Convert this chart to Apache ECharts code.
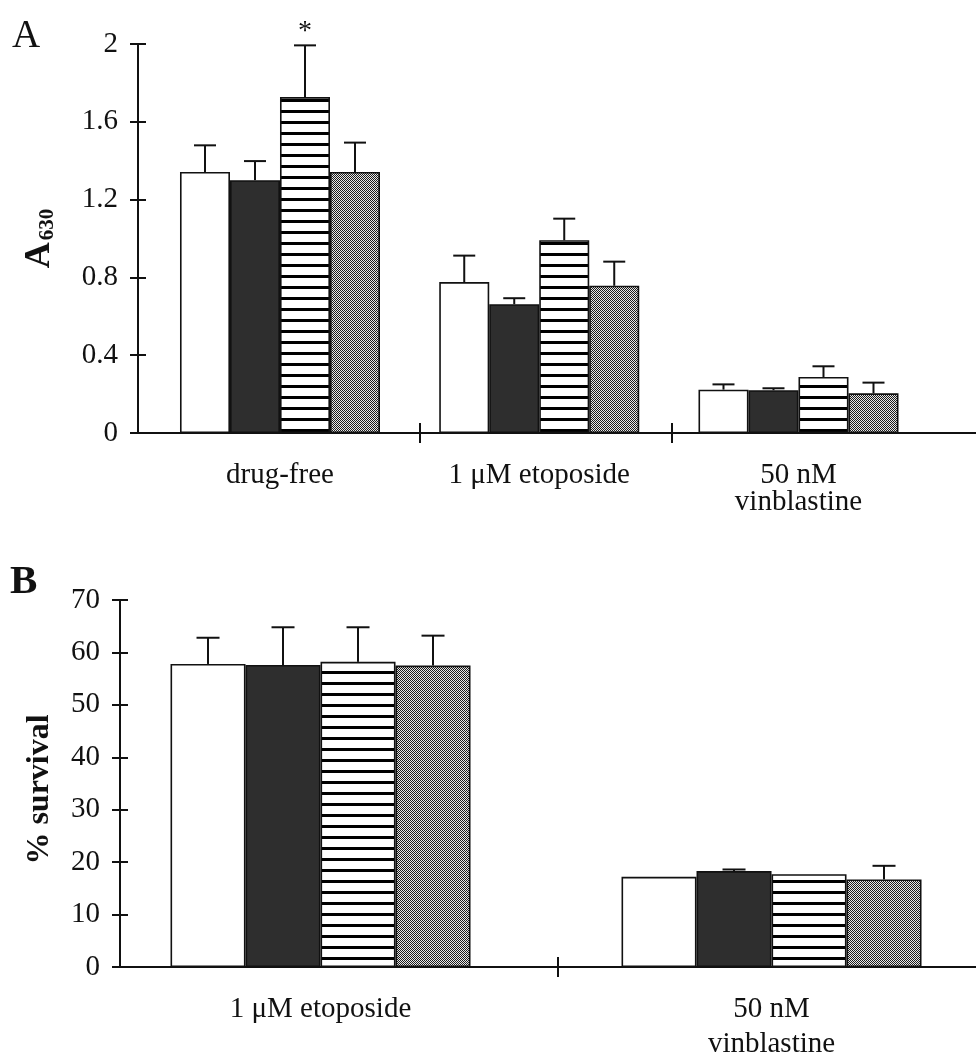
<!DOCTYPE html>
<html>
<head>
<meta charset="utf-8">
<style>
html,body{margin:0;padding:0;background:#fff}
#c{width:976px;height:1056px}
</style>
<script src="https://cdn.jsdelivr.net/npm/echarts@6/dist/echarts.min.js"></script>
</head>
<body>
<div id="c"></div>
<script>
// ---------------- data ----------------
const categoriesA = ['drug-free', '1 μM etoposide', '50 nM\nvinblastine'];
const categoriesB = ['1 μM etoposide', '50 nM\nvinblastine'];
const groupNames = ['open', 'filled', 'striped', 'stippled'];

// Panel A : A630
const A_open = [1.342, 0.776, 0.223];
const A_open_sd = [0.137, 0.136, 0.027];
const A_filled = [1.300, 0.662, 0.220];
const A_filled_sd = [0.098, 0.031, 0.010];
const A_striped = [1.727, 0.991, 0.288];
const A_striped_sd = [0.266, 0.111, 0.055];
const A_stippled = [1.342, 0.757, 0.204];
const A_stippled_sd = [0.151, 0.124, 0.055];
const A_striped_mark = ['*', '', ''];

// Panel B : % survival
const B_open = [57.8, 17.2];
const B_open_sd = [5.0, 0];
const B_filled = [57.6, 18.3];
const B_filled_sd = [7.2, 0.3];
const B_striped = [58.2, 17.7];
const B_striped_sd = [6.6, 0];
const B_stippled = [57.5, 16.7];
const B_stippled_sd = [5.7, 2.6];

const yTicksA = {min: 0, max: 2, interval: 0.4};
const yTicksB = {min: 0, max: 70, interval: 10};

// ---------------- styles ----------------
const SERIF = '"Liberation Serif", "DejaVu Serif", serif';
const INK = '#111';

function pat(w, h, draw) {
  const c = document.createElement('canvas');
  c.width = w; c.height = h;
  draw(c.getContext('2d'));
  return c;
}
const stripeImg = pat(4, 11, g => {
  g.fillStyle = '#fff'; g.fillRect(0, 0, 4, 11);
  g.fillStyle = '#000'; g.fillRect(0, 0, 4, 3);
});
const dotImg = pat(2, 2, g => {
  g.fillStyle = '#e8e8e8'; g.fillRect(0, 0, 2, 2);
  g.fillStyle = '#1c1c1c'; g.fillRect(0, 0, 1, 1); g.fillRect(1, 1, 1, 1);
});
const fills = ['#ffffff', '#2e2e2e', {image: stripeImg, repeat: 'repeat'}, {image: dotImg, repeat: 'repeat'}];

const panels = [
  {
    cats: categoriesA,
    means: [A_open, A_filled, A_striped, A_stippled],
    sds: [A_open_sd, A_filled_sd, A_striped_sd, A_stippled_sd],
    marks: [null, null, A_striped_mark, null],
    y: yTicksA,
    grid: {left: 138, right: 0, top: 44, height: 389, outerBoundsMode: 'none', containLabel: false},
    xMin: -0.5477, xMax: 2.6847, sepTicks: [0.54, 1.512],
    barWidth: 50, cap: 22, labelMargin: 29, labelLH: 27,
    yName: '{a|A}{s|630}', yNameGap: 80,
    yNameStyle: {
      rich: {
        a: {fontFamily: SERIF, fontWeight: 'bold', fontSize: 36, color: INK, verticalAlign: 'bottom'},
        s: {fontFamily: SERIF, fontWeight: 'bold', fontSize: 21, color: INK, verticalAlign: 'bottom', padding: [0, 0, 0, 2]}
      }
    }
  },
  {
    cats: categoriesB,
    means: [B_open, B_filled, B_striped, B_stippled],
    sds: [B_open_sd, B_filled_sd, B_striped_sd, B_stippled_sd],
    marks: [null, null, null, null],
    y: yTicksB,
    grid: {left: 120, right: 0, top: 600, height: 367, outerBoundsMode: 'none', containLabel: false},
    xMin: -0.4446, xMax: 1.4534, sepTicks: [0.5266],
    barWidth: 75, cap: 23, labelMargin: 25, labelLH: 35,
    yName: '% survival', yNameGap: 64,
    yNameStyle: {fontFamily: SERIF, fontWeight: 'bold', fontSize: 32, color: INK, padding: [0, 12, 0, 0]}
  }
];

const nP = panels.length;
const grids = [], xAxes = [], yAxes = [], series = [];
// main grids
panels.forEach(p => grids.push(Object.assign({}, p.grid)));
// helper grids (same rectangles) for the inner halves of the crossing ticks
panels.forEach(p => grids.push(Object.assign({}, p.grid)));

panels.forEach((p, pi) => {
  const labelVals = p.cats.map((_, i) => i);
  xAxes[pi] = {
    type: 'value', gridIndex: pi, position: 'bottom', min: p.xMin, max: p.xMax,
    splitLine: {show: false},
    axisLine: {show: true, onZero: false, lineStyle: {color: INK, width: 2}},
    axisTick: {show: true, length: 10, inside: false, customValues: p.sepTicks, lineStyle: {color: INK, width: 2}},
    axisLabel: {
      show: true, customValues: labelVals, margin: p.labelMargin,
      formatter: v => p.cats[Math.round(v)],
      fontFamily: SERIF, fontSize: 29, color: INK, lineHeight: p.labelLH, align: 'center'
    }
  };
  xAxes[nP + pi] = {
    type: 'value', gridIndex: nP + pi, position: 'bottom', min: p.xMin, max: p.xMax,
    splitLine: {show: false}, axisLine: {show: false, onZero: false},
    axisTick: {show: true, length: 10, inside: true, customValues: p.sepTicks, lineStyle: {color: INK, width: 2}},
    axisLabel: {show: false}
  };
  yAxes[pi] = {
    type: 'value', gridIndex: pi, position: 'left', min: p.y.min, max: p.y.max, interval: p.y.interval,
    splitLine: {show: false},
    axisLine: {show: true, onZero: false, lineStyle: {color: INK, width: 2}},
    axisTick: {show: true, length: 8, inside: false, lineStyle: {color: INK, width: 2}},
    axisLabel: {margin: 20, fontFamily: SERIF, fontSize: 29, color: INK},
    name: p.yName, nameLocation: 'middle', nameRotate: 90, nameGap: p.yNameGap,
    nameTextStyle: p.yNameStyle
  };
  yAxes[nP + pi] = {
    type: 'value', gridIndex: nP + pi, position: 'left', min: p.y.min, max: p.y.max, interval: p.y.interval,
    splitLine: {show: false}, axisLine: {show: false, onZero: false},
    axisTick: {show: true, length: 8, inside: true, lineStyle: {color: INK, width: 2}},
    axisLabel: {show: false}
  };

  p.means.forEach((vals, si) => {
    series.push({
      type: 'bar', name: groupNames[si], xAxisIndex: pi, yAxisIndex: pi,
      data: vals.map((v, i) => [i, v]),
      barWidth: p.barWidth, barGap: '0%',
      itemStyle: {color: fills[si], borderColor: INK, borderWidth: 1.6},
      silent: true, z: 2
    });
  });

  const errRows = [], markRows = [];
  p.means.forEach((vals, si) => {
    vals.forEach((v, i) => {
      errRows.push([i, v, p.sds[si][i], si]);
      markRows.push(p.marks[si] ? p.marks[si][i] : '');
    });
  });
  series.push({
    type: 'custom', xAxisIndex: pi, yAxisIndex: pi, z: 5, silent: true,
    data: errRows,
    renderItem: (params, api) => {
      const gi = api.value(0), m = api.value(1), sd = api.value(2), si = api.value(3);
      const base = api.coord([gi, m]);
      const top = api.coord([gi, m + sd]);
      const x = base[0] + (si - 1.5) * p.barWidth;
      const children = [];
      if (sd > 0) {
        children.push({type: 'line', shape: {x1: x, y1: base[1], x2: x, y2: top[1]},
          style: {stroke: INK, lineWidth: 2}});
        children.push({type: 'line', shape: {x1: x - p.cap / 2, y1: top[1], x2: x + p.cap / 2, y2: top[1]},
          style: {stroke: INK, lineWidth: 2}});
      }
      const mk = markRows[params.dataIndex];
      if (mk) {
        children.push({type: 'text', style: {text: mk, x: x, y: top[1] - 14, align: 'center', verticalAlign: 'middle',
          font: '28px ' + SERIF, fill: INK}});
      }
      return {type: 'group', children};
    }
  });
});

const chart = echarts.init(document.getElementById('c'), null, {renderer: 'canvas'});
chart.setOption({
  animation: false,
  backgroundColor: '#fff',
  title: [
    {text: 'A', left: 12, top: 17, padding: 0, textStyle: {fontFamily: SERIF, fontWeight: 'normal', fontSize: 39, color: INK}},
    {text: 'B', left: 10, top: 562, padding: 0, textStyle: {fontFamily: SERIF, fontWeight: 'bold', fontSize: 41, color: INK}}
  ],
  grid: grids,
  xAxis: xAxes,
  yAxis: yAxes,
  series: series
});
</script>
</body>
</html>
